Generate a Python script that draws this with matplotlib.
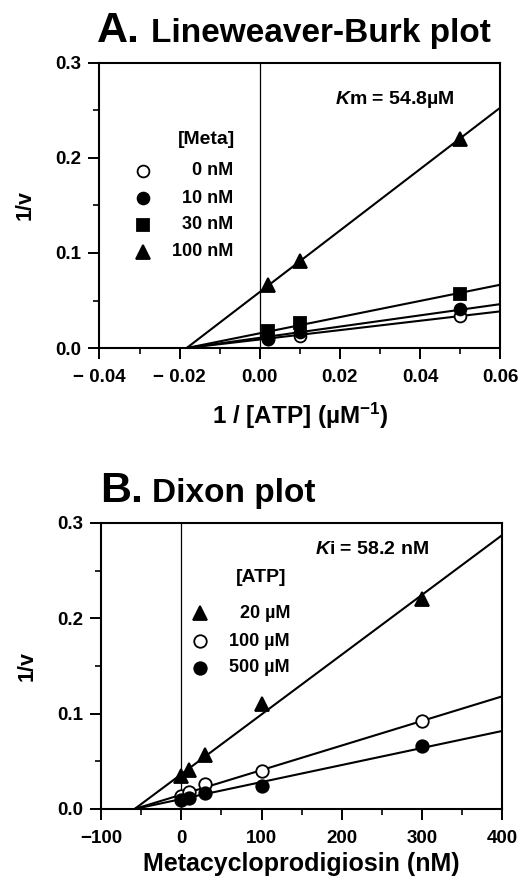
"""Lineweaver-Burk and Dixon plots for metacycloprodigiosin inhibition."""

import numpy as np
import matplotlib
matplotlib.use('Agg')
import matplotlib.pyplot as plt
from matplotlib.ticker import MultipleLocator, FuncFormatter

plt.rcParams['font.family'] = ['Liberation Sans', 'DejaVu Sans']
plt.rcParams['font.weight'] = 'bold'
plt.rcParams['mathtext.fontset'] = 'custom'
plt.rcParams['mathtext.bf'] = 'Liberation Sans:bold'
plt.rcParams['mathtext.it'] = 'Liberation Sans:italic:bold'
plt.rcParams['mathtext.rm'] = 'Liberation Sans:bold'
plt.rcParams['mathtext.default'] = 'bf'
plt.rcParams['axes.unicode_minus'] = True

# --- Panel A: Lineweaver-Burk (x = 1/[ATP], uM^-1) ---
lb_x = [0.002, 0.01, 0.05]
lb_labels = ['0 nM', '10 nM', '30 nM', '100 nM']
lb_y_0 = [0.010, 0.013, 0.034]
lb_y_10 = [0.009, 0.017, 0.041]
lb_y_30 = [0.018, 0.026, 0.057]
lb_y_100 = [0.066, 0.092, 0.220]
km = 54.8  # uM

# --- Panel B: Dixon (x = metacycloprodigiosin, nM) ---
dx_x = [0, 10, 30, 100, 300]
dx_labels = ['20 \u00b5M', '100 \u00b5M', '500 \u00b5M']
dx_y_20 = [0.035, 0.041, 0.057, 0.110, 0.220]
dx_y_100 = [0.014, 0.018, 0.026, 0.040, 0.092]
dx_y_500 = [0.009, 0.011, 0.017, 0.024, 0.066]
ki = 58.2  # nM


def fit_through(x, y, x0):
    # least squares line forced through (x0, 0)
    dx = np.asarray(x, float) - x0
    y = np.asarray(y, float)
    return (dx * y).sum() / (dx * dx).sum()


def style_axes(ax, xmaj, xmin, xfmt):
    ax.set_ylim(0, 0.3)
    ax.yaxis.set_major_locator(MultipleLocator(0.1))
    ax.yaxis.set_minor_locator(MultipleLocator(0.05))
    ax.xaxis.set_major_locator(MultipleLocator(xmaj))
    ax.xaxis.set_minor_locator(MultipleLocator(xmin))
    ax.xaxis.set_major_formatter(FuncFormatter(xfmt))
    ax.yaxis.set_major_formatter(FuncFormatter(lambda v, p: f'{v:.1f}'))
    ax.tick_params(which='major', direction='out', length=8, width=1.4,
                   labelsize=13.5)
    ax.tick_params(axis='x', which='major', pad=7)
    ax.tick_params(axis='y', which='major', pad=5)
    ax.tick_params(which='minor', direction='out', length=4.5, width=1.2)
    ax.tick_params(top=False, right=False)
    for s in ax.spines.values():
        s.set_linewidth(1.5)
    for lab in ax.get_xticklabels() + ax.get_yticklabels():
        lab.set_fontweight('bold')
    ax.set_ylabel('1/v', fontsize=15.5, fontweight='bold', labelpad=14)
    ax.axvline(0, color='black', lw=0.9, zorder=1)


fig = plt.figure(figsize=(5.32, 8.8), dpi=100)

# ---------------- Panel A ----------------
ax = fig.add_axes([0.187, 0.6045, 0.753, 0.324])
xlo, xhi = -0.04, 0.06
ax.set_xlim(xlo, xhi)
x0 = -1.0 / km
series_a = [(lb_y_0, 'o', 'white', 8.5),
            (lb_y_10, 'o', 'black', 8.5),
            (lb_y_30, 's', 'black', 8),
            (lb_y_100, '^', 'black', 10)]
for y, m, fc, ms in series_a:
    k = fit_through(lb_x, y, x0)
    xs = np.array([x0, xhi])
    ax.plot(xs, k * (xs - x0), color='black', lw=1.5, zorder=2)
for y, m, fc, ms in series_a:
    ax.plot(lb_x, y, ls='none', marker=m, ms=ms, mfc=fc, mec='black',
            mew=1.3, zorder=3, clip_on=False)
style_axes(ax, 0.02, 0.01, lambda v, p: f'{v:.2f}'.replace('-', '\u2212 ')
           if abs(v) > 1e-9 else '0.00')
ax.set_xlabel('1 / [ATP] (\u00b5M$^{-1}$)', fontsize=17.5, fontweight='bold',
              labelpad=11)

ax.text(0.738, 0.870, '$\\mathit{K}$m = 54.8\u00b5M', transform=ax.transAxes,
        ha='center', va='center', fontsize=14, fontweight='bold')
ax.text(0.266, 0.730, '[Meta]', transform=ax.transAxes, ha='center',
        va='center', fontsize=14, fontweight='bold')
rows_a = [0.621, 0.526, 0.432, 0.337]
for (y, m, fc, ms), lab, ry in zip(series_a, lb_labels, rows_a):
    ax.plot([0.109], [ry], transform=ax.transAxes, ls='none', marker=m,
            ms=ms, mfc=fc, mec='black', mew=1.3, clip_on=False)
    ax.text(0.333, ry, lab, transform=ax.transAxes, ha='right', va='center',
            fontsize=13, fontweight='bold')

fig.text(0.182, 0.952, 'A.', fontsize=31, fontweight='bold', ha='left',
         va='baseline')
fig.text(0.284, 0.952, 'Lineweaver-Burk plot', fontsize=24,
         fontweight='bold', ha='left', va='baseline')

# ---------------- Panel B ----------------
ax = fig.add_axes([0.190, 0.0807, 0.754, 0.325])
xlo, xhi = -100, 400
ax.set_xlim(xlo, xhi)
x0 = -ki
series_b = [(dx_y_20, '^', 'black', 10),
            (dx_y_100, 'o', 'white', 9),
            (dx_y_500, 'o', 'black', 9)]
for y, m, fc, ms in series_b:
    k = fit_through(dx_x, y, x0)
    xs = np.array([x0, xhi])
    ax.plot(xs, k * (xs - x0), color='black', lw=1.5, zorder=2)
for y, m, fc, ms in series_b:
    ax.plot(dx_x, y, ls='none', marker=m, ms=ms, mfc=fc, mec='black',
            mew=1.3, zorder=3, clip_on=False)
style_axes(ax, 100, 50, lambda v, p: f'{v:.0f}'.replace('-', '\u2212'))
ax.set_xlabel('Metacycloprodigiosin (nM)', fontsize=18, fontweight='bold',
              labelpad=4)

ax.text(0.676, 0.906, '$\\mathit{K}$i = 58.2 nM', transform=ax.transAxes,
        ha='center', va='center', fontsize=14, fontweight='bold')
ax.text(0.399, 0.808, '[ATP]', transform=ax.transAxes, ha='center',
        va='center', fontsize=14, fontweight='bold')
rows_b = [0.685, 0.587, 0.493]
for (y, m, fc, ms), lab, ry in zip(series_b, dx_labels, rows_b):
    ax.plot([0.247], [ry], transform=ax.transAxes, ls='none', marker=m,
            ms=ms, mfc=fc, mec='black', mew=1.3, clip_on=False)
    ax.text(0.471, ry, lab, transform=ax.transAxes, ha='right', va='center',
            fontsize=13, fontweight='bold')

fig.text(0.188, 0.4295, 'B.', fontsize=31, fontweight='bold', ha='left',
         va='baseline')
fig.text(0.286, 0.4295, 'Dixon plot', fontsize=24, fontweight='bold',
         ha='left', va='baseline')

fig.savefig('out.png', dpi=100)
plt.close()
